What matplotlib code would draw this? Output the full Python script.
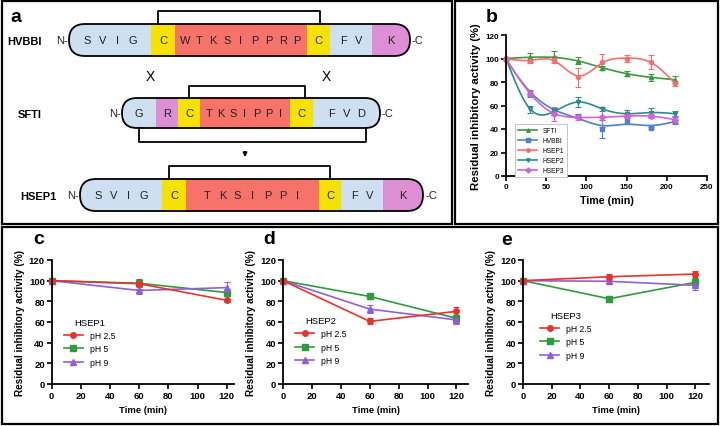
import numpy as np
import matplotlib.pyplot as plt
from matplotlib.patches import Rectangle, FancyBboxPatch
from matplotlib.lines import Line2D

plt.rcParams['font.family'] = ['Liberation Sans', 'DejaVu Sans']

# ---------------- data ----------------
# panel a: peptide sequences, one string per coloured block
hvbbi_seq = ['SVIG', 'C', 'WTKSIPPRP', 'C', 'FV', 'K']
hvbbi_kind = ['b', 'y', 'r', 'y', 'b', 'p']
sfti_seq = ['G', 'R', 'C', 'TKSIPPI', 'C', 'FVD']
sfti_kind = ['b', 'p', 'y', 'r', 'y', 'b']
hsep1_seq = ['SVIG', 'C', 'TKSIPPI', 'C', 'FV', 'K']
hsep1_kind = ['b', 'y', 'r', 'y', 'b', 'p']

# panel b: residual activity over time
time_b = [0, 30, 60, 90, 120, 150, 180, 210]
b_names = ['SFTI', 'HVBBI', 'HSEP1', 'HSEP2', 'HSEP3']
sfti_val = [100, 101, 101, 98, 92, 87, 84, 82]
sfti_err = [0, 4, 5, 3, 2, 2, 3, 3]
hvbbi_val = [100, 70, 56, 51, 40, 47, 41, 47]
hvbbi_err = [0, 3, 2, 2, 8, 3, 1, 3]
hsep1_val = [100, 98, 99, 84, 97, 100, 97, 79]
hsep1_err = [0, 2, 3, 8, 7, 3, 6, 2]
hsep2_val = [100, 57, 55, 63, 57, 53, 54, 53]
hsep2_err = [0, 3, 3, 4, 2, 3, 4, 2]
hsep3_val = [100, 70, 53, 50, 50, 51, 51, 48]
hsep3_err = [0, 2, 6, 2, 8, 2, 2, 3]

# panels c-e: pH stability
time_ph = [0, 60, 120]
ph_labels = ['pH 2.5', 'pH 5', 'pH 9']
c_ph25, c_ph25_err = [100, 97, 81], [0, 5, 1.5]
c_ph5, c_ph5_err = [100, 97.5, 88.5], [0, 2, 3]
c_ph9, c_ph9_err = [100, 90.5, 93.3], [0, 3, 5]
d_ph25, d_ph25_err = [100, 60.6, 70.3], [0, 3, 4]
d_ph5, d_ph5_err = [100, 84.7, 63.6], [0, 2.5, 3]
d_ph9, d_ph9_err = [100, 72.5, 62], [0, 4, 4]
e_ph25, e_ph25_err = [100, 103.8, 106.4], [0, 3, 3]
e_ph5, e_ph5_err = [100, 82.5, 98.4], [0, 3, 4]
e_ph9, e_ph9_err = [100, 99.4, 95.5], [0, 2, 5]

# ---------------- figure ----------------
W, H = 720, 427
fig = plt.figure(figsize=(7.2, 4.27), dpi=100)


def px_axes(x0, y0, x1, y1):
    # pixel box (top-left origin) -> figure axes
    return fig.add_axes([x0 / W, 1 - y1 / H, (x1 - x0) / W, (y1 - y0) / H])


canvas = fig.add_axes([0, 0, 1, 1])
canvas.set_xlim(0, W)
canvas.set_ylim(H, 0)
canvas.axis('off')

# panel frames
for (x0, y0, x1, y1) in [(2, 2, 452, 225), (455, 2, 718, 225), (2, 228, 718, 425)]:
    canvas.add_patch(Rectangle((x0, y0), x1 - x0, y1 - y0, fill=False, lw=1.6, ec='black'))

block_colors = {'b': '#cddff0', 'y': '#f6e200', 'r': '#f7736a', 'p': '#dd8fd3'}


def draw_peptide(name, seq, kind, bounds, yc, h, name_x):
    pill = FancyBboxPatch((bounds[0], yc - h / 2), bounds[-1] - bounds[0], h,
                          boxstyle=f'round,pad=0,rounding_size={h / 2}',
                          fc='none', ec='none')
    canvas.add_patch(pill)
    for i, (s, k) in enumerate(zip(seq, kind)):
        x0, x1 = bounds[i], bounds[i + 1]
        r = Rectangle((x0, yc - h / 2), x1 - x0, h, fc=block_colors[k], ec='none')
        canvas.add_patch(r)
        r.set_clip_path(pill)
        n = len(s)
        step = min(15, (x1 - x0) / (n + 0.5))
        xm = (x0 + x1) / 2
        for j, ch in enumerate(s):
            canvas.text(xm + (j - (n - 1) / 2) * step, yc, ch, fontsize=8,
                        ha='center', va='center', color='#222222')
    canvas.add_patch(FancyBboxPatch((bounds[0], yc - h / 2), bounds[-1] - bounds[0], h,
                                    boxstyle=f'round,pad=0,rounding_size={h / 2}',
                                    fc='none', ec='black', lw=1.3, zorder=3))
    canvas.text(name_x, yc + 1, name, fontsize=8, fontweight='bold', ha='center', va='center')
    canvas.text(bounds[0] - 1, yc, 'N-', fontsize=8, ha='right', va='center', color='#222222')
    canvas.text(bounds[-1] + 2, yc, '-C', fontsize=8, ha='left', va='center', color='#222222')


draw_peptide('HVBBI', hvbbi_seq, hvbbi_kind, [69, 151, 175, 307, 330, 372, 410], 41, 32, 24)
draw_peptide('SFTI', sfti_seq, sfti_kind, [122, 156, 178, 200, 290, 313, 380], 114, 30, 30)
draw_peptide('HSEP1', hsep1_seq, hsep1_kind, [80, 162, 186, 319, 341, 383, 423], 196, 32, 38)

# disulfide brackets
for (x0, x1, y_end, y_top) in [(158, 320, 25, 12), (189, 305, 99, 87),
                                (139, 366, 129, 143), (169, 330, 180, 167)]:
    canvas.plot([x0, x0, x1, x1], [y_end, y_top, y_top, y_end], color='black', lw=1.3)

canvas.text(150, 77, 'X', fontsize=10, ha='center', va='center')
canvas.text(326, 77, 'X', fontsize=10, ha='center', va='center')
canvas.annotate('', xy=(245, 161), xytext=(245, 150),
                arrowprops=dict(arrowstyle='-|>', color='black', lw=1.2, mutation_scale=6))

for lab, x, y in [('a', 16, 17), ('b', 492, 17), ('c', 39, 240), ('d', 269, 240), ('e', 507, 241)]:
    canvas.text(x, y, lab, fontsize=14, fontweight='bold', ha='center', va='center')


def style(ax, xlim, xticks, tick_fs, xlab_fs, ylab_fs):
    ax.set_facecolor('none')
    for s in ['top', 'right']:
        ax.spines[s].set_visible(False)
    for s in ['left', 'bottom']:
        ax.spines[s].set_linewidth(1.3)
    ax.set_xlim(*xlim)
    ax.set_ylim(0, 120)
    ax.set_xticks(xticks)
    ax.set_yticks(range(0, 121, 20))
    ax.tick_params(width=1.2, length=3.5, labelsize=tick_fs, pad=1.5)
    for t in ax.get_xticklabels() + ax.get_yticklabels():
        t.set_fontweight('bold')
    ax.set_xlabel('Time (min)', fontsize=xlab_fs, fontweight='bold', labelpad=4)
    ax.set_ylabel('Residual inhibitory activity (%)', fontsize=ylab_fs, fontweight='bold', labelpad=3)


def smooth_curve(t, y, lam):
    grid = np.arange(t[0], t[-1] + 1)
    n = len(grid)
    idx = np.searchsorted(grid, t)
    w = np.zeros(n)
    w[idx] = 1
    z = np.zeros(n)
    z[idx] = y
    D = np.diff(np.eye(n), 2, axis=0)
    f = np.linalg.solve(np.diag(w) + lam * D.T @ D, w * z)
    return grid, f


# ---------------- panel b ----------------
axb = px_axes(506, 36, 707, 177)
style(axb, (0, 250), range(0, 251, 50), 5.8, 7.7, 8.2)
b_series = {
    'SFTI': (sfti_val, sfti_err, '#3c9a3c', '^', 1000),
    'HVBBI': (hvbbi_val, hvbbi_err, '#4d7fd1', 's', 2000),
    'HSEP2': (hsep2_val, hsep2_err, '#2a8c8c', 'v', 10),
    'HSEP3': (hsep3_val, hsep3_err, '#d262d2', 'D', 300),
    'HSEP1': (hsep1_val, hsep1_err, '#f46e6e', 'o', 200),
}
handles = {}
for name, (v, e, col, mk, lam) in b_series.items():
    gx, gy = smooth_curve(time_b, v, lam)
    axb.plot(gx, gy, color=col, lw=1.2)
    axb.errorbar(time_b, v, yerr=e, fmt=mk, color=col, ms=3, elinewidth=0.8,
                 capsize=2, capthick=0.8, clip_on=False)
    handles[name] = Line2D([], [], color=col, marker=mk, ms=2.5, lw=1.2)
leg = axb.legend([handles[n] for n in b_names], b_names, loc='upper left',
                 bbox_to_anchor=(0.045, 0.37), borderaxespad=0, fontsize=4.8,
                 handlelength=2.8, labelspacing=0.45, fancybox=False,
                 edgecolor='#bbbbbb', framealpha=1, borderpad=0.5)
leg.get_frame().set_linewidth(0.6)

# ---------------- panels c, d, e ----------------
ph_colors = ['#e8322b', '#2e9b3c', '#8f5fd9']
ph_markers = ['o', 's', '^']
panels = [
    ('HSEP1', (51.7, 261, 234, 385), 125, [(c_ph25, c_ph25_err), (c_ph5, c_ph5_err), (c_ph9, c_ph9_err)], (0.067, 0.535)),
    ('HSEP2', (283, 261, 468, 385), 128, [(d_ph25, d_ph25_err), (d_ph5, d_ph5_err), (d_ph9, d_ph9_err)], (0.067, 0.548)),
    ('HSEP3', (523, 261, 709, 385), 129.5, [(e_ph25, e_ph25_err), (e_ph5, e_ph5_err), (e_ph9, e_ph9_err)], (0.092, 0.59)),
]
for title, box, xmax, series, anchor in panels:
    ax = px_axes(*box)
    style(ax, (0, xmax), range(0, 121, 20), 6.8, 6.8, 7.2)
    for i in [1, 2, 0]:
        v, e = series[i]
        ax.errorbar(time_ph, v, yerr=e, fmt='-' + ph_markers[i], color=ph_colors[i],
                    ms=4, lw=1.2, elinewidth=0.8, capsize=2, capthick=0.8, clip_on=False)
    hs = [Line2D([], [], color=ph_colors[i], marker=ph_markers[i], ms=4, lw=1.2) for i in range(3)]
    ax.legend(hs, ph_labels, title=title, loc='upper left', bbox_to_anchor=anchor,
              borderaxespad=0, frameon=False, fontsize=6.2, title_fontsize=6.8,
              handlelength=2.2, labelspacing=0.5, borderpad=0)

fig.savefig('out.png', dpi=100)
